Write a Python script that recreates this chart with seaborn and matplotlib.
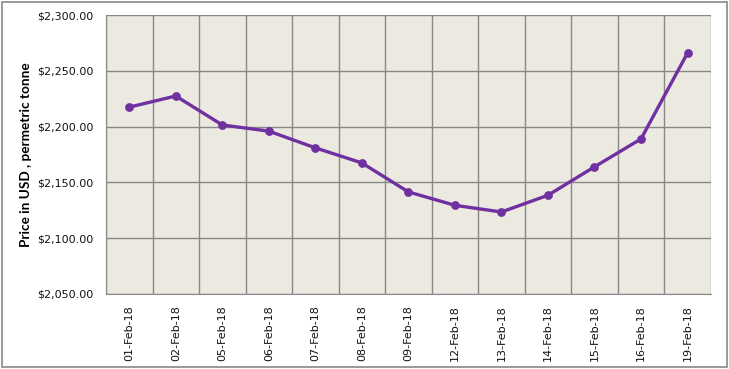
import matplotlib
matplotlib.use("Agg")
import matplotlib.pyplot as plt
import matplotlib.patches as patches
from matplotlib.ticker import FuncFormatter, FixedLocator
import seaborn as sns

dates = ["01-Feb-18", "02-Feb-18", "05-Feb-18", "06-Feb-18", "07-Feb-18",
         "08-Feb-18", "09-Feb-18", "12-Feb-18", "13-Feb-18", "14-Feb-18",
         "15-Feb-18", "16-Feb-18", "19-Feb-18"]
prices = [2217.5, 2227.5, 2201.5, 2196.0, 2181.0, 2167.5, 2141.5,
          2129.5, 2123.5, 2138.5, 2164.0, 2189.0, 2266.0]

sns.set_style("white")
plt.rcParams["font.family"] = ["DejaVu Sans"]

fig = plt.figure(figsize=(7.29, 3.69), dpi=100)
ax = fig.add_axes([0.1454, 0.2033, 0.975 - 0.1454, 0.959 - 0.2033])
ax.set_facecolor("#ECE9E1")

sns.pointplot(x=dates, y=prices, ax=ax, color="#7030A0",
              markersize=4.5, linewidth=2.4)

ax.set_xlim(-0.5, len(dates) - 0.5)
ax.set_ylim(2050, 2300)
ax.set_yticks(range(2050, 2301, 50))
ax.yaxis.set_major_formatter(FuncFormatter(lambda v, _: "${:,.2f}".format(v)))

# grid lines between categories
ax.xaxis.set_minor_locator(FixedLocator([i + 0.5 for i in range(-1, len(dates))]))
ax.grid(True, which="minor", axis="x", color="#888888", linewidth=1)
ax.grid(True, which="major", axis="y", color="#888888", linewidth=1)
ax.set_axisbelow(True)

ax.tick_params(axis="x", which="both", length=0, labelsize=8, rotation=90, pad=8, colors="#111111")
ax.tick_params(axis="y", length=0, labelsize=8, pad=9, colors="#111111")
for s in ax.spines.values():
    s.set_visible(False)
ax.spines["left"].set_visible(True)
ax.spines["left"].set_color("#888888")
ax.spines["bottom"].set_visible(True)
ax.spines["bottom"].set_color("#888888")

ax.set_xlabel("")
ax.set_ylabel("Price in USD , permetric tonne", fontsize=9.8, fontweight="bold",
              family=["Lato", "DejaVu Sans"], labelpad=4, color="#000000")

# chart border
fig.patches.append(patches.Rectangle((0.003, 0.005), 0.994, 0.99, transform=fig.transFigure,
                                     fill=False, edgecolor="#888888", linewidth=1.2))

fig.savefig("out.png", dpi=100)
